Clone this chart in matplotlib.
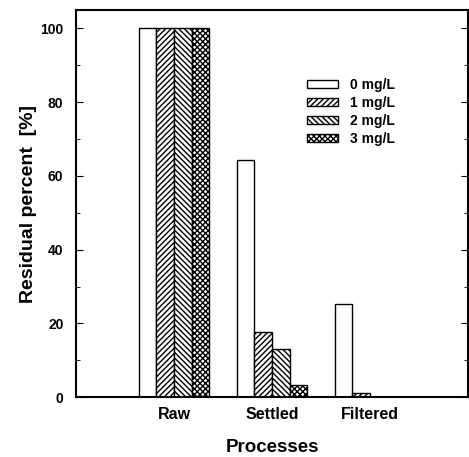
import numpy as np
import matplotlib.pyplot as plt
from matplotlib.ticker import MultipleLocator

plt.rcParams['font.family'] = ['Liberation Sans', 'DejaVu Sans']
plt.rcParams['font.weight'] = 'bold'
plt.rcParams['hatch.linewidth'] = 1.0

processes = ['Raw', 'Settled', 'Filtered']
doses = ['0 mg/L', '1 mg/L', '2 mg/L', '3 mg/L']
values = [
    [100, 64.2, 25.2],   # 0 mg/L
    [100, 17.6, 1.2],    # 1 mg/L
    [100, 13.0, 0.0],    # 2 mg/L
    [100, 3.3, 0.0],     # 3 mg/L
]
hatches = ['', '//////', '\\\\\\\\\\\\', 'xxxxxx']

fig = plt.figure(figsize=(4.69, 4.57), dpi=100)
ax = fig.add_axes([0.162, 0.131, 0.836, 0.847])

x = np.arange(len(processes))
w = 0.18
for i in range(len(doses)):
    ax.bar(x + (i - 1.5) * w, values[i], w, color='white', edgecolor='black',
           hatch=hatches[i], linewidth=1.0, label=doses[i])

ax.set_xlim(-1, 3)
ax.set_ylim(0, 105)
ax.set_xticks(x)
ax.set_xticklabels(processes, fontsize=11.5, fontweight='bold')
ax.tick_params(axis='x', length=0, pad=7)
ax.yaxis.set_major_locator(MultipleLocator(20))
ax.yaxis.set_minor_locator(MultipleLocator(10))
ax.tick_params(axis='y', which='both', direction='in', left=True, right=True, labelsize=10, pad=9)
ax.tick_params(axis='y', which='major', length=5)
ax.tick_params(axis='y', which='minor', length=3)
for s in ax.spines.values():
    s.set_linewidth(1.5)

ax.set_xlabel('Processes', fontsize=13.5, fontweight='bold', labelpad=12)
ax.set_ylabel('Residual percent  [%]', fontsize=14, fontweight='bold', labelpad=2)

ax.legend(loc='upper left', bbox_to_anchor=(0.59, 0.825), frameon=False, fontsize=10,
          handlelength=2.2, handleheight=0.5, labelspacing=0.3, handletextpad=0.85,
          borderpad=0, borderaxespad=0)

plt.savefig('out.png')
